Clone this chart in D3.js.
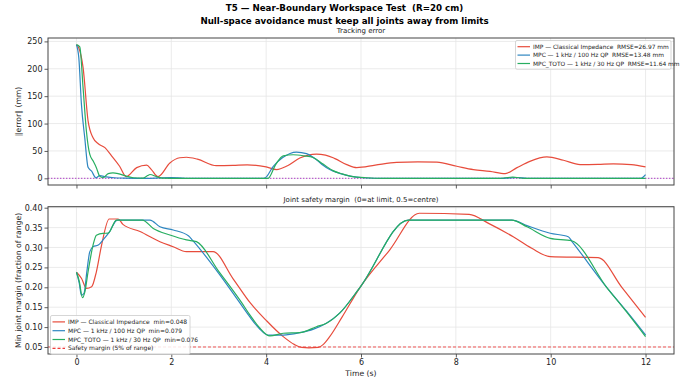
<!DOCTYPE html>
<html><head><meta charset="utf-8">
<script src="https://cdn.jsdelivr.net/npm/d3@7"></script>
<style>
body{margin:0;background:#fff}
svg{display:block}
text{font-family:"DejaVu Sans",sans-serif;white-space:pre}
</style>
</head><body>
<svg id="c" width="689" height="381"></svg>
<script>
// ---------------- data ----------------
const seriesNames = ["IMP — Classical Impedance", "MPC — 1 kHz / 100 Hz QP", "MPC_TOTO — 1 kHz / 30 Hz QP"];
const seriesColors = ["#e74c3c", "#2e86c1", "#27ae60"];
const rmseLabels = ["RMSE=26.97 mm", "RMSE=13.48 mm", "RMSE=11.64 mm"];
const minLabels = ["min=0.048", "min=0.079", "min=0.076"];

// tracking error (mm)
const impErrT = [0,0.05,0.14,0.245,0.35,0.46,0.6,0.74,0.91,1.05,1.27,1.48,1.58,1.72,1.97,2.18,2.32,2.55,2.95,3.3,3.6,4.0,4.22,4.45,4.71,5.06,5.25,5.45,5.7,5.91,6.3,6.75,7.2,7.6,8.02,8.37,8.72,9.04,9.28,9.56,9.92,10.27,10.62,11.0,11.32,11.7,12.0];
const impErr  = [244,238,202,105,74,63,56,41,22,3,19.5,24,16,3,28,37.5,38.5,35,23,23.5,24.5,21,16,23,37,44,42.5,36,25,19.5,24,29,30,29.5,22,16,12.8,8.6,19,31,39,33,25,25.5,26.5,25,21];
const mpcErrT = [0,0.05,0.105,0.175,0.245,0.32,0.41,0.49,0.63,0.8,1.0,1.5,2.0,2.3,3.9,3.97,4.15,4.35,4.64,4.85,5.06,5.2,5.34,5.55,5.77,6.05,6.5,9.0,9.3,9.5,11.9,12.0];
const mpcErr  = [244,220,135,74,20,13,1,5,2.5,1,0.5,0,1.5,0,0,0.5,22,38,48,45,34,24,16,9,4,1,0,0,1.5,0,0,6.7];
const totoErrT = [0,0.07,0.14,0.21,0.28,0.35,0.42,0.49,0.56,0.67,0.77,0.9,1.05,1.2,1.4,1.5,1.55,1.69,1.8,2.2,4.04,4.2,4.36,4.57,4.8,4.99,5.2,5.41,5.6,5.77,6.1,6.5,8.9,9.2,9.45,12.0];
const totoErr  = [244,240,165,86,44,32,19.5,4,1,8.6,10,8,4,1,0.5,5,7,3,0.5,0,0,25,41,43,41,38,26,14,8,4,1,0,0,2,0,0];

// joint safety margin (fraction of range)
const impMarT = [0,0.105,0.21,0.32,0.42,0.53,0.69,0.88,0.98,1.34,1.76,2.04,2.32,2.88,3.3,3.67,4.0,4.36,4.6,4.75,4.9,5.1,5.2,5.34,5.6,5.98,6.6,7.23,8.28,8.7,9.21,9.6,9.99,11.0,11.5,12.0];
const impMar  = [0.2377,0.2226,0.1975,0.2015,0.239,0.306,0.3716,0.3716,0.358,0.34,0.3146,0.302,0.2895,0.2895,0.222,0.16,0.117,0.076,0.056,0.049,0.048,0.049,0.056,0.076,0.125,0.2,0.293,0.386,0.3834,0.36,0.327,0.298,0.277,0.2745,0.2,0.1246];
const mpcMarT = [0,0.06,0.105,0.16,0.22,0.28,0.35,0.46,0.56,0.70,0.86,1.55,1.76,2.04,2.36,2.45,3.0,3.45,3.66,3.85,4.04,4.36,4.71,5.0,5.27,5.55,5.98,7.0,9.18,9.5,9.99,10.37,10.45,11.18,11.6,12.0];
const mpcMar  = [0.2377,0.21,0.18,0.185,0.24,0.289,0.302,0.306,0.319,0.34,0.369,0.369,0.352,0.344,0.3297,0.318,0.235,0.16,0.125,0.097,0.08,0.08,0.086,0.095,0.1095,0.135,0.2,0.369,0.369,0.355,0.3357,0.327,0.315,0.2,0.14,0.08];
const totoMarT = [0,0.06,0.126,0.18,0.245,0.35,0.42,0.56,0.67,0.84,1.39,1.62,1.97,2.32,2.53,3.0,3.48,3.66,3.85,4.08,4.36,4.71,5.06,5.27,5.55,5.98,7.0,9.18,9.5,9.99,10.44,11.18,11.6,12.0];
const totoMar  = [0.2377,0.215,0.174,0.19,0.239,0.306,0.331,0.3357,0.336,0.369,0.369,0.348,0.3314,0.319,0.3146,0.24,0.162,0.13,0.1,0.0777,0.0845,0.086,0.101,0.1095,0.135,0.2,0.369,0.369,0.352,0.323,0.317,0.2,0.138,0.076];

const xTicks = [0,2,4,6,8,10,12];
const errTicks = [0,50,100,150,200,250];
const marTicks = [0.05,0.10,0.15,0.20,0.25,0.30,0.35,0.40];
const safetyLevel = 0.05;

const titleLine1 = "T5 — Near-Boundary Workspace Test  (R=20 cm)";
const titleLine2 = "Null-space avoidance must keep all joints away from limits";
const topTitle = "Tracking error";
const botTitle = "Joint safety margin  (0=at limit, 0.5=centre)";
const topYLabel = "‖error‖ (mm)";
const botYLabel = "Min joint margin (fraction of range)";
const xLabel = "Time (s)";
const safetyLabel = "Safety margin (5% of range)";

// ---------------- drawing ----------------
const svg = d3.select("#c");
const L = 48, R = 674;
const topBox = {t: 38, b: 185};
const botBox = {t: 206.7, b: 354};

const x = d3.scaleLinear().domain([-0.6, 12.6]).range([L, R]);
const yE = d3.scaleLinear().domain([-12.2, 256.2]).range([topBox.b, topBox.t]);
const yM = d3.scaleLinear().domain([0.0324, 0.4025]).range([botBox.b, botBox.t]);

svg.append("text").attr("x", 344.5).attr("y", 11).attr("text-anchor", "middle")
  .attr("font-size", 8.7).attr("font-weight", "bold").text(titleLine1);
svg.append("text").attr("x", 344.5).attr("y", 23.5).attr("text-anchor", "middle")
  .attr("font-size", 8.7).attr("font-weight", "bold").text(titleLine2);

function panel(box, y, yTicks, fmt, showXLabels, title, ylab) {
  const g = svg.append("g");
  g.append("g").selectAll("line").data(xTicks).join("line")
    .attr("x1", d => x(d)).attr("x2", d => x(d)).attr("y1", box.t).attr("y2", box.b)
    .attr("stroke", "#e6e6e6").attr("stroke-width", 0.8);
  g.append("g").selectAll("line").data(yTicks).join("line")
    .attr("x1", L).attr("x2", R).attr("y1", d => y(d)).attr("y2", d => y(d))
    .attr("stroke", "#e6e6e6").attr("stroke-width", 0.8);
  const ax = d3.axisBottom(x).tickValues(xTicks).tickSize(3.5).tickPadding(2)
    .tickFormat(showXLabels ? d3.format("d") : () => "");
  const gx = g.append("g").attr("transform", `translate(0,${box.b})`).call(ax);
  const ay = d3.axisLeft(y).tickValues(yTicks).tickSize(3.5).tickPadding(2).tickFormat(fmt);
  const gy = g.append("g").attr("transform", `translate(${L},0)`).call(ay);
  [gx, gy].forEach(a => {
    a.select(".domain").remove();
    a.selectAll(".tick line").attr("stroke", "#333").attr("stroke-width", 0.8);
    a.selectAll(".tick text").attr("fill", "#222").attr("font-size", 8)
      .attr("font-family", "DejaVu Sans");
  });
  g.append("text").attr("x", (L + R) / 2).attr("y", box.t - 5).attr("text-anchor", "middle")
    .attr("font-size", 7).attr("fill", "#222").text(title);
  g.append("text").attr("transform", `translate(21,${(box.t + box.b) / 2}) rotate(-90)`)
    .attr("text-anchor", "middle").attr("font-size", 7.7).attr("fill", "#222").text(ylab);
  return g;
}

const gTop = panel(topBox, yE, errTicks, d3.format("d"), false, topTitle, topYLabel);
const gBot = panel(botBox, yM, marTicks, d3.format(".2f"), true, botTitle, botYLabel);

const defs = svg.append("defs");
defs.append("clipPath").attr("id", "clipTop").append("rect")
  .attr("x", L).attr("y", topBox.t).attr("width", R - L).attr("height", topBox.b - topBox.t);
defs.append("clipPath").attr("id", "clipBot").append("rect")
  .attr("x", L).attr("y", botBox.t).attr("width", R - L).attr("height", botBox.b - botBox.t);

gTop.append("line").attr("x1", L).attr("x2", R).attr("y1", yE(0)).attr("y2", yE(0))
  .attr("stroke", "#b03fc8").attr("stroke-width", 1).attr("stroke-dasharray", "1.4,1.6");

const errT = [impErrT, mpcErrT, totoErrT];
const errV = [impErr, mpcErr, totoErr];
const marT = [impMarT, mpcMarT, totoMarT];
const marV = [impMar, mpcMar, totoMar];

const lineE = d3.line().x(d => x(d[0])).y(d => yE(d[1])).curve(d3.curveMonotoneX);
const lineM = d3.line().x(d => x(d[0])).y(d => yM(d[1])).curve(d3.curveMonotoneX);

const topLines = gTop.append("g").attr("clip-path", "url(#clipTop)");
const botLines = gBot.append("g").attr("clip-path", "url(#clipBot)");
[0, 1, 2].forEach(i => {
  topLines.append("path").datum(d3.zip(errT[i], errV[i])).attr("d", lineE)
    .attr("fill", "none").attr("stroke", seriesColors[i]).attr("stroke-width", 1.2)
    .attr("stroke-linejoin", "round");
});
[0, 1, 2].forEach(i => {
  botLines.append("path").datum(d3.zip(marT[i], marV[i])).attr("d", lineM)
    .attr("fill", "none").attr("stroke", seriesColors[i]).attr("stroke-width", 1.2)
    .attr("stroke-linejoin", "round");
});
gBot.append("line").attr("x1", L).attr("x2", R).attr("y1", yM(safetyLevel)).attr("y2", yM(safetyLevel))
  .attr("stroke", "#f03c3c").attr("stroke-width", 1).attr("stroke-dasharray", "3,2").attr("opacity", 0.85);

[topBox, botBox].forEach(b => {
  svg.append("rect").attr("x", L).attr("y", b.t).attr("width", R - L).attr("height", b.b - b.t)
    .attr("fill", "none").attr("stroke", "#444").attr("stroke-width", 1);
});

function legend(x0, y0, w, rowH, fs, items) {
  const g = svg.append("g");
  g.append("rect").attr("x", x0).attr("y", y0).attr("width", w).attr("height", rowH * items.length + 3.5)
    .attr("rx", 1.5).attr("fill", "#fff").attr("fill-opacity", 0.85).attr("stroke", "#ccc").attr("stroke-width", 0.8);
  items.forEach((it, i) => {
    const cy = y0 + 2 + rowH * (i + 0.5);
    g.append("line").attr("x1", x0 + 2).attr("x2", x0 + 14.5).attr("y1", cy).attr("y2", cy)
      .attr("stroke", it.color).attr("stroke-width", 1.2).attr("stroke-dasharray", it.dash || null);
    g.append("text").attr("x", x0 + 17.5).attr("y", cy + 2.1).attr("font-size", fs).attr("fill", "#222").text(it.label);
  });
}
legend(515.5, 40.5, 155.5, 8.4, 5.9, [0, 1, 2].map(i => ({color: seriesColors[i], label: seriesNames[i] + "  " + rmseLabels[i]})));
legend(50.5, 315.5, 139.5, 8.8, 6, [0, 1, 2].map(i => ({color: seriesColors[i], label: seriesNames[i] + "  " + minLabels[i]}))
  .concat([{color: "#f03c3c", dash: "3,2", label: safetyLabel}]));

svg.append("text").attr("x", (L + R) / 2).attr("y", 375.5).attr("text-anchor", "middle")
  .attr("font-size", 7.7).attr("fill", "#222").text(xLabel);
</script>
</body></html>
